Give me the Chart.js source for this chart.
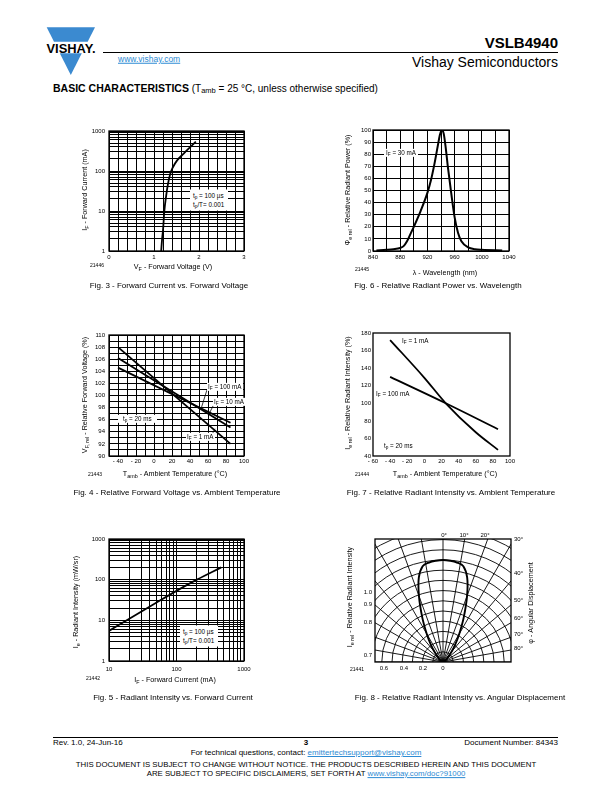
<!DOCTYPE html>
<html>
<head>
<meta charset="utf-8">
<script src="https://cdn.jsdelivr.net/npm/chart.js@4.4.0/dist/chart.umd.min.js"></script>
<style>
  body { margin: 0; width: 612px; height: 792px; position: relative; background: #fff; overflow: hidden;
         font-family: "Liberation Sans", Arial, Helvetica, sans-serif; color: #000; }
  .t { position: absolute; white-space: nowrap; line-height: 1; }
  .t sub { font-size: 75%; vertical-align: -0.25em; line-height: 0; }
  .box { background: #fff; }
  canvas { position: absolute; }
  a { color: #2e8bd3; text-decoration: underline; }
  .rule { position: absolute; height: 0; border-top: 1.3px solid #000; }
</style>
</head>
<body>

<svg style="position:absolute;left:44px;top:24px" width="56" height="54">
  <polygon points="2.7,3.3 51,3.3 43.7,17.7 10,17.7" fill="#3b8ad0"/>
  <polygon points="15.8,29.3 37.8,29.3 26.8,51" fill="#3b8ad0"/>
  <text x="27" y="28.5" text-anchor="middle" font-family="Liberation Sans, Arial" font-weight="bold"
        font-size="12.5" textLength="49" lengthAdjust="spacingAndGlyphs">VISHAY.</text>
</svg>
<div class="rule" style="left:103px;top:52px;width:455px"></div>
<div class="rule" style="left:53px;top:737px;width:505px"></div>

<script>
const FONT = '"Liberation Sans", Arial, Helvetica, sans-serif';

// ---- Fig. 3 forward current vs forward voltage
const fig3Voltage = [1.16, 1.18, 1.20, 1.23, 1.27, 1.31, 1.36, 1.42, 1.51, 1.66, 1.81, 1.93];
const fig3Current = [1, 2, 3.3, 10, 24, 47, 84, 124, 182, 273, 400, 540];
const fig3XTicks = [0, 0.2, 0.4, 0.6, 0.8, 1, 1.2, 1.4, 1.6, 1.8, 2, 2.2, 2.4, 2.6, 2.8, 3];

// ---- Fig. 6 relative radiant power vs wavelength
const fig6Wavelength = [845, 860, 870, 880, 885, 890, 895, 900, 910, 920, 925, 930, 935, 938, 941, 944, 947, 950, 955, 960, 965, 970, 980, 990, 1000, 1030];
const fig6Power = [0.5, 1, 1.5, 2.5, 4, 8, 14, 20, 33, 48, 58, 71, 86, 95, 100, 97, 85, 70, 48, 28, 15, 8, 3, 1.5, 1, 0.5];
const fig6XTicks = [840, 860, 880, 900, 920, 940, 960, 980, 1000, 1020, 1040];
const fig6YTicks = [0, 10, 20, 30, 40, 50, 60, 70, 80, 90, 100];

// ---- Fig. 4 relative forward voltage vs ambient temperature
const fig4Temp = [-40, 85];
const fig4Vf1mA = [108, 92];
const fig4Vf10mA = [106.2, 94.7];
const fig4Vf100mA = [104.6, 95.5];
const fig4XTicks = [-50, -40, -30, -20, -10, 0, 10, 20, 30, 40, 50, 60, 70, 80, 90, 100];
const fig4YTicks = [90, 91, 92, 93, 94, 95, 96, 97, 98, 99, 100, 101, 102, 103, 104, 105, 106, 107, 108, 109, 110];

// ---- Fig. 7 relative radiant intensity vs ambient temperature
const fig7Temp1mA = [-40, 0, 25, 60, 86];
const fig7Ie1mA = [172, 129, 100, 67, 47];
const fig7Temp100mA = [-40, 25, 86];
const fig7Ie100mA = [130, 100, 70.5];
const fig7XTicks = [-60, -40, -20, 0, 20, 40, 60, 80, 100];
const fig7YTicks = [40, 60, 80, 100, 120, 140, 160, 180];

// ---- Fig. 5 radiant intensity vs forward current
const fig5Current = [10, 20, 50, 100, 200, 460];
const fig5Intensity = [5.5, 11, 27, 53, 100, 200];
const logTicks = [1, 2, 3, 4, 5, 6, 7, 8, 9, 10, 20, 30, 40, 50, 60, 70, 80, 90,
                  100, 200, 300, 400, 500, 600, 700, 800, 900, 1000];
const fig5XTicks = [10, 20, 30, 40, 50, 60, 70, 80, 90, 100, 200, 300, 400, 500, 600, 700, 800, 900, 1000];

// ---- Fig. 8 relative radiant intensity vs angular displacement
const fig8Angle = [0, 4, 8, 12, 16, 20, 25, 30, 35, 40, 50, 60, 90];
const fig8Intensity = [1.0, 0.995, 0.985, 0.96, 0.86, 0.69, 0.48, 0.32, 0.21, 0.13, 0.05, 0.02, 0];
const fig8Rings = [0.1, 0.2, 0.3, 0.4, 0.5, 0.6, 0.7, 0.8, 0.9, 1.0, 1.1, 1.2, 1.3, 1.4];
const fig8Spokes = [-90, -80, -70, -60, -50, -40, -30, -20, -10, 0, 10, 20, 30, 40, 50, 60, 70, 80, 90];

// ---------------------------------------------------------------------------
const AX_W = 40, AX_H = 20, PAD_T = 8, PAD_R = 12;

function txt(html, x, y, size, align, cls, rotate) {
  const d = document.createElement('div');
  d.className = 't' + (cls ? ' ' + cls : '');
  d.innerHTML = html;
  d.style.left = x + 'px';
  d.style.top = y + 'px';
  d.style.fontSize = size + 'px';
  const tx = align === 'l' ? '0' : align === 'r' ? '-100%' : '-50%';
  d.style.transform = `translate(${tx},-50%)` + (rotate ? ' rotate(-90deg)' : '');
  document.body.appendChild(d);
  return d;
}

function canvasFor(box, pad) {
  const c = document.createElement('canvas');
  const w = box.r - box.l + pad.l + pad.r, h = box.b - box.t + pad.t + pad.b;
  c.width = w; c.height = h;
  c.style.width = w + 'px'; c.style.height = h + 'px';
  c.style.left = (box.l - pad.l) + 'px';
  c.style.top = (box.t - pad.t) + 'px';
  document.body.appendChild(c);
  return c;
}

function axis(type, min, max, ticks, label, grid, pad) {
  return {
    type, min, max,
    afterBuildTicks: s => { s.ticks = ticks.map(v => ({ value: v })); },
    grid: { display: grid, color: '#000', lineWidth: 1, drawTicks: false },
    border: { display: false },
    ticks: { autoSkip: false, maxRotation: 0, minRotation: 0, padding: pad, color: '#000',
             font: { family: FONT, size: 6 }, callback: v => label(v) },
  };
}

const frame = {
  id: 'frame',
  afterDraw(chart) {
    const { ctx, chartArea: a } = chart;
    ctx.save();
    ctx.strokeStyle = '#000';
    ctx.lineWidth = 1.3;
    ctx.strokeRect(a.left, a.top, a.right - a.left, a.bottom - a.top);
    ctx.restore();
  }
};

// short pointer lines from labels to curves, given in data units
const leaders = {
  id: 'leaders',
  afterDatasetsDraw(chart, args, opts) {
    const { ctx, scales: { x, y } } = chart;
    ctx.save();
    ctx.strokeStyle = '#000';
    ctx.lineWidth = 0.8;
    (opts.lines || []).forEach(([p, q]) => {
      ctx.beginPath();
      ctx.moveTo(x.getPixelForValue(p[0]), y.getPixelForValue(p[1]));
      ctx.lineTo(x.getPixelForValue(q[0]), y.getPixelForValue(q[1]));
      ctx.stroke();
    });
    ctx.restore();
  }
};

function series(xs, ys, width) {
  return {
    data: xs.map((x, i) => ({ x, y: ys[i] })),
    borderColor: '#000', borderWidth: width || 1.8,
    pointRadius: 0, fill: false, cubicInterpolationMode: 'monotone',
  };
}

function xyChart(box, xAx, yAx, datasets, extra) {
  const c = canvasFor(box, { l: AX_W, r: PAD_R, t: PAD_T, b: AX_H });
  xAx.afterFit = s => { s.height = AX_H; };
  yAx.afterFit = s => { s.width = AX_W; };
  return new Chart(c, {
    type: 'line',
    data: { datasets },
    options: {
      responsive: false, animation: false, events: [],
      layout: { padding: { left: 0, right: PAD_R, top: PAD_T, bottom: 0 } },
      plugins: Object.assign({ legend: { display: false }, tooltip: { enabled: false } }, extra || {}),
      scales: { x: xAx, y: yAx },
    },
    plugins: [frame, leaders],
  });
}

const isDecade = v => [1, 10, 100, 1000].includes(v);
const dash = v => (v < 0 ? '- ' + (-v) : String(v));

// Fig. 3
xyChart({ l: 109, t: 131, r: 244, b: 251 },
  axis('linear', 0, 3, fig3XTicks, v => (Math.abs(v - Math.round(v)) < 1e-6 ? String(Math.round(v)) : ''), true, 3),
  axis('logarithmic', 1, 1000, logTicks, v => (isDecade(v) ? String(v) : ''), true, 4),
  [series(fig3Voltage, fig3Current)]);

// Fig. 6
xyChart({ l: 373, t: 130, r: 509, b: 251 },
  axis('linear', 840, 1040, fig6XTicks, v => (v % 40 === 0 ? String(v) : ''), true, 3),
  axis('linear', 0, 100, fig6YTicks, v => String(v), true, 2),
  [series(fig6Wavelength, fig6Power, 2)]);

// Fig. 4
xyChart({ l: 109, t: 335, r: 244, b: 456 },
  axis('linear', -50, 100, fig4XTicks, v => (v % 20 === 0 ? dash(v) : ''), true, 2),
  axis('linear', 90, 110, fig4YTicks, v => (v % 2 === 0 ? String(v) : ''), true, 4),
  [series(fig4Temp, fig4Vf1mA), series(fig4Temp, fig4Vf10mA), series(fig4Temp, fig4Vf100mA)],
  { leaders: { lines: [[[58.8, 100.9], [52.9, 98.1]], [[65.7, 98.3], [61, 96.9]], [[64, 93.4], [67.7, 94.5]]] } });

// Fig. 7
xyChart({ l: 373, t: 333, r: 510, b: 456 },
  axis('linear', -60, 100, fig7XTicks, dash, false, 2),
  axis('linear', 40, 180, fig7YTicks, v => String(v), false, 2),
  [series(fig7Temp1mA, fig7Ie1mA), series(fig7Temp100mA, fig7Ie100mA)]);

// Fig. 5
xyChart({ l: 109, t: 539, r: 244, b: 661 },
  axis('logarithmic', 10, 1000, fig5XTicks, v => (isDecade(v) ? String(v) : ''), true, 5),
  axis('logarithmic', 1, 1000, logTicks, v => (isDecade(v) ? String(v) : ''), true, 4),
  [series(fig5Current, fig5Intensity)]);

// Fig. 8 polar diagram drawn on a square-unit cartesian area
const polarGrid = {
  id: 'polarGrid',
  beforeDatasetsDraw(chart) {
    const { ctx, chartArea: a, scales: { x, y } } = chart;
    const cx = x.getPixelForValue(0), cy = y.getPixelForValue(0);
    const unit = x.getPixelForValue(1) - cx;
    ctx.save();
    ctx.beginPath();
    ctx.rect(a.left, a.top, a.right - a.left, a.bottom - a.top);
    ctx.clip();
    ctx.strokeStyle = '#000';
    ctx.lineWidth = 0.9;
    fig8Rings.forEach(r => {
      ctx.beginPath();
      ctx.arc(cx, cy, r * unit, Math.PI, 2 * Math.PI);
      ctx.stroke();
    });
    fig8Spokes.forEach(d => {
      const t = d * Math.PI / 180;
      ctx.beginPath();
      ctx.moveTo(cx, cy);
      ctx.lineTo(cx + Math.sin(t) * 2 * unit, cy - Math.cos(t) * 2 * unit);
      ctx.stroke();
    });
    ctx.restore();
  }
};
{
  const box = { l: 375, t: 539, r: 511, b: 662 };
  const c = canvasFor(box, { l: 2, r: 2, t: 2, b: 2 });
  const half = 68 / 102, top = 123 / 102;
  const angles = fig8Angle.slice().reverse().map(a => -a).concat(fig8Angle.slice(1));
  const values = fig8Intensity.slice().reverse().concat(fig8Intensity.slice(1));
  const pts = angles.map((a, i) => ({
    x: values[i] * Math.sin(a * Math.PI / 180),
    y: values[i] * Math.cos(a * Math.PI / 180),
  }));
  new Chart(c, {
    type: 'scatter',
    data: { datasets: [{ data: pts, showLine: true, borderColor: '#000', borderWidth: 1.9, pointRadius: 0, tension: 0.35 }] },
    options: {
      responsive: false, animation: false, events: [],
      layout: { padding: 2 },
      plugins: { legend: { display: false }, tooltip: { enabled: false } },
      scales: {
        x: { type: 'linear', min: -half, max: half, display: false },
        y: { type: 'linear', min: 0, max: top, display: false },
      },
    },
    plugins: [polarGrid, frame],
  });
}

// ---------------- text ----------------
// header
txt('VSLB4940', 558, 42, 15, 'r').style.fontWeight = 'bold';
txt('Vishay Semiconductors', 558, 62, 14, 'r');
txt('<a>www.vishay.com</a>', 118, 59, 8.5, 'l');
txt('<b style="font-size:10.5px">BASIC CHARACTERISTICS</b> (T<sub>amb</sub> = 25 °C, unless otherwise specified)', 53, 88, 10, 'l');

// Fig. 3
txt('I<sub>F</sub> - Forward Current (mA)', 85, 190, 7.2, 'c', '', true);
txt('V<sub>F</sub> - Forward Voltage (V)', 173, 267, 7.2, 'c');
txt('21446', 97, 265, 5, 'c');
txt('Fig. 3 - Forward Current vs. Forward Voltage', 169, 286, 8, 'c');
txt('t<sub>p</sub> = 100 µs<br>t<sub>p</sub>/T= 0.001', 190, 200, 6.3, 'l', 'box').style.cssText += ';padding:2px 4px 2px 3px;line-height:1.35';

// Fig. 6
txt('Φ<sub>e rel</sub> - Relative Radiant Power (%)', 348, 190, 7.2, 'c', '', true);
txt('λ - Wavelength (nm)', 445, 273, 7.2, 'c');
txt('21445', 362, 269, 5, 'c');
txt('Fig. 6 - Relative Radiant Power vs. Wavelength', 438, 286, 8, 'c');
txt('I<sub>F</sub> = 30 mA', 384, 153, 6.3, 'l', 'box').style.padding = '1px 2px';

// Fig. 4
txt('V<sub>F, rel</sub> - Relative Forward Voltage (%)', 85, 395, 7.2, 'c', '', true);
txt('T<sub>amb</sub> - Ambient Temperature (°C)', 175, 474, 7.2, 'c');
txt('21443', 95, 474, 5, 'c');
txt('Fig. 4 - Relative Forward Voltage vs. Ambient Temperature', 177, 493, 8, 'c');
txt('I<sub>F</sub> = 100 mA', 207, 387, 6.3, 'l', 'box').style.padding = '1px 1px';
txt('I<sub>F</sub> = 10 mA', 213, 402, 6.3, 'l', 'box').style.padding = '1px 1px';
txt('I<sub>F</sub> = 1 mA', 186, 437, 6.3, 'l', 'box').style.padding = '1px 1px';
txt('t<sub>p</sub> = 20 ms', 118, 419, 6.3, 'l', 'box').style.padding = '1px 5px';

// Fig. 7
txt('I<sub>e rel</sub> - Relative Radiant Intensity (%)', 348, 393, 7.2, 'c', '', true);
txt('T<sub>amb</sub> - Ambient Temperature (°C)', 445, 474, 7.2, 'c');
txt('21444', 362, 474, 5, 'c');
txt('Fig. 7 - Relative Radiant Intensity vs. Ambient Temperature', 451, 493, 8, 'c');
txt('I<sub>F</sub> = 1 mA', 401, 341, 6.3, 'l', 'box').style.padding = '1px 1px';
txt('I<sub>F</sub> = 100 mA', 375, 394, 6.3, 'l', 'box').style.padding = '1px 1px';
txt('t<sub>p</sub> = 20 ms', 383, 446, 6.3, 'l', 'box').style.padding = '1px 1px';

// Fig. 5
txt('I<sub>e</sub> - Radiant Intensity (mW/sr)', 76, 602, 7.2, 'c', '', true);
txt('I<sub>F</sub> - Forward Current (mA)', 175, 680, 7.2, 'c');
txt('21442', 93, 678, 5, 'c');
txt('Fig. 5 - Radiant Intensity vs. Forward Current', 173, 698, 8, 'c');
txt('t<sub>p</sub> = 100 µs<br>t<sub>p</sub>/T= 0.001', 180, 636, 6.3, 'l', 'box').style.cssText += ';padding:2px 4px 2px 3px;line-height:1.35';

// Fig. 8
[['0°', 444, 535], ['10°', 464, 535], ['20°', 485, 535]].forEach(([s, x, y]) => txt(s, x, y, 6, 'c'));
[['30°', 539], ['40°', 573], ['50°', 600], ['60°', 618], ['70°', 634], ['80°', 648]].forEach(([s, y]) => txt(s, 514, y, 6, 'l'));
[['1.0', 592], ['0.9', 604], ['0.8', 622], ['0.7', 655]].forEach(([s, y]) => txt(s, 372, y, 6, 'r'));
[['0.6', 384], ['0.4', 404], ['0.2', 423], ['0', 443]].forEach(([s, x]) => txt(s, x, 668, 6, 'c'));
txt('I<sub>e rel</sub> - Relative Radiant Intensity', 350, 597, 7.2, 'c', '', true);
txt('φ - Angular Displacement', 531, 603, 7.2, 'c', '', true);
txt('21441', 357, 669, 5, 'c');
txt('Fig. 8 - Relative Radiant Intensity vs. Angular Displacement', 460, 698, 8, 'c');

// footer
txt('Rev. 1.0, 24-Jun-16', 53, 743, 8, 'l');
txt('<b>3</b>', 306, 743, 8, 'c');
txt('Document Number: 84343', 558, 743, 8, 'r');
txt('For technical questions, contact: <a>emittertechsupport@vishay.com</a>', 306, 753, 8, 'c');
txt('THIS DOCUMENT IS SUBJECT TO CHANGE WITHOUT NOTICE. THE PRODUCTS DESCRIBED HEREIN AND THIS DOCUMENT', 306, 765, 7.8, 'c');
txt('ARE SUBJECT TO SPECIFIC DISCLAIMERS, SET FORTH AT <a>www.vishay.com/doc?91000</a>', 306, 774, 7.8, 'c');
</script>
</body>
</html>
